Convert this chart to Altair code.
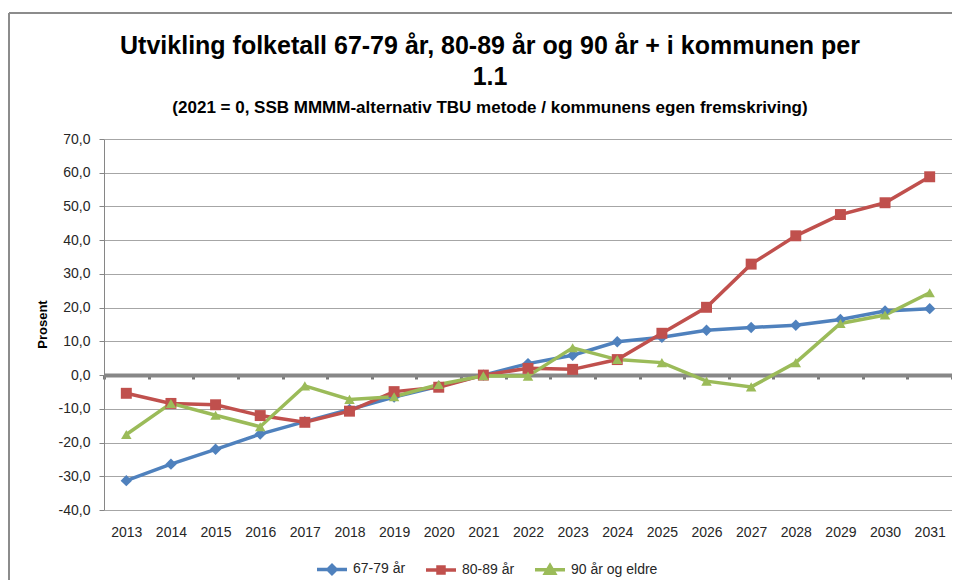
import altair as alt
import pandas as pd

years = [str(y) for y in range(2013, 2032)]
series_names = ["67-79 år", "80-89 år", "90 år og eldre"]
v_67_79 = [-31.3, -26.4, -22.0, -17.5, -13.8, -10.2, -6.5, -3.3, 0.0, 3.4, 5.9, 9.9, 11.2, 13.3, 14.1, 14.8, 16.5, 19.0, 19.7]
v_80_89 = [-5.4, -8.4, -8.8, -12.0, -14.0, -10.7, -4.9, -3.6, 0.0, 2.0, 1.7, 4.6, 12.4, 20.1, 32.9, 41.3, 47.6, 51.1, 58.8]
v_90 = [-17.6, -8.4, -11.9, -15.3, -3.2, -7.2, -6.4, -2.8, -0.2, -0.3, 8.1, 4.6, 3.7, -1.8, -3.5, 3.7, 15.3, 17.8, 24.4]
y_ticks = [-40, -30, -20, -10, 0, 10, 20, 30, 40, 50, 60, 70]

colors = ["#4F81BD", "#C0504D", "#9BBB59"]
shapes = ["diamond", "square", "triangle-up"]
legend_paths = [
    "M-1,0L1,0M0,-0.27L0.27,0L0,0.27L-0.27,0Z",
    "M-1,0L1,0M-0.2,-0.2L0.2,-0.2L0.2,0.2L-0.2,0.2Z",
    "M-1,0L1,0M0,-0.28L0.3,0.22L-0.3,0.22Z",
]

rows = []
for name, vals in zip(series_names, [v_67_79, v_80_89, v_90]):
    for yr, v in zip(years, vals):
        rows.append({"year": yr, "value": v, "serie": name})
df = pd.DataFrame(rows)

TXT = "#262626"
FONT = "Liberation Sans"
TFONT = "Liberation Sans"

x_enc = alt.X(
    "year:O",
    scale=alt.Scale(type="band", paddingInner=0, paddingOuter=0),
    axis=alt.Axis(
        title=None, labelAngle=0, offset=-135, domainColor="#878787", domainWidth=4,
        tickBand="extent", tickColor="#7a7a7a", tickWidth=3, tickSize=4,
        labelPadding=146, labelFont=FONT, labelFontSize=14, labelColor=TXT, grid=False,
    ),
)
y_enc = alt.Y(
    "value:Q",
    scale=alt.Scale(domain=[-40, 70], nice=False, zero=False),
    axis=alt.Axis(
        values=y_ticks, title="Prosent", titleFont=FONT, titleFontSize=13, titleFontWeight="bold",
        titleColor="#000000", titleX=-62, titleY=185, titleAngle=-90, titleAlign="center",
        titleBaseline="middle",
        labelExpr="(datum.value < 0 ? '-' : '') + replace(format(abs(datum.value), '.1f'), '.', ',')",
        labelFont=FONT, labelFontSize=14, labelColor=TXT, labelPadding=9,
        domainColor="#868686", tickColor="#868686", tickSize=5,
        gridColor="#a6a6a6", gridWidth=1.2,
    ),
)

base = alt.Chart(df)

lines = base.mark_line(strokeWidth=3.5).encode(
    x=x_enc, y=y_enc,
    color=alt.Color("serie:N", scale=alt.Scale(domain=series_names, range=colors), legend=None),
)
points = base.mark_point(filled=True, opacity=1).encode(
    x=x_enc, y=y_enc,
    color=alt.Color("serie:N", scale=alt.Scale(domain=series_names, range=colors), legend=None),
    shape=alt.Shape("serie:N", scale=alt.Scale(domain=series_names, range=shapes), legend=None),
    size=alt.Size("serie:N", scale=alt.Scale(domain=series_names, range=[130, 110, 150]), legend=None),
)

leg = alt.Legend(
    title=None, orient="none", legendX=211, legendY=413, direction="horizontal",
    symbolSize=900, symbolStrokeWidth=3.5, labelFont=FONT, labelFontSize=14,
    labelColor=TXT, columnPadding=13, labelOffset=4,
)
legend_layer = base.mark_point(filled=True, opacity=0, strokeWidth=3.5).encode(
    x=x_enc, y=y_enc,
    fill=alt.Fill("serie:N", scale=alt.Scale(domain=series_names, range=colors), legend=leg),
    stroke=alt.Stroke("serie:N", scale=alt.Scale(domain=series_names, range=colors), legend=leg),
    shape=alt.Shape("serie:N", scale=alt.Scale(domain=series_names, range=legend_paths), legend=leg),
)

frame_top = alt.Chart(df).mark_rule(color="#8c8c8c", strokeWidth=1.5).encode(
    x=alt.value(-95), x2=alt.value(860), y=alt.value(-126)
)
frame_left = alt.Chart(df).mark_rule(color="#8c8c8c", strokeWidth=1.5).encode(
    x=alt.value(-95), y=alt.value(-126), y2=alt.value(444)
)

chart = alt.layer(frame_top, frame_left, lines, points, legend_layer).resolve_scale(
    color="independent", shape="independent", fill="independent", stroke="independent"
).properties(
    width=848, height=371,
    padding={"left": 96, "top": 131, "right": 0, "bottom": 70},
    autosize=alt.AutoSizeParams(type="none"),
    title=alt.TitleParams(
        text=["Utvikling folketall 67-79 år, 80-89 år og 90 år + i kommunen per", "1.1"],
        subtitle="(2021 = 0, SSB MMMM-alternativ TBU metode / kommunens egen fremskriving)",
        font=TFONT, fontSize=25, fontWeight="bold", color="#000000", lineHeight=31,
        subtitleFont=TFONT, subtitleFontSize=17, subtitleFontWeight="bold", subtitleColor="#000000",
        subtitlePadding=10, anchor="middle", dx=-38, dy=104, offset=0, frame="group",
    ),
).configure_view(stroke=None)

chart.save("out.html", embed_options={"renderer": "svg", "actions": False})
